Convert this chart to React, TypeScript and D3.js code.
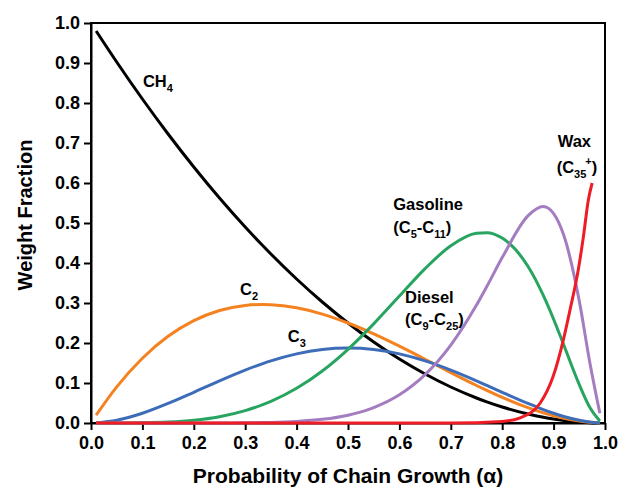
import { useEffect, useRef } from 'react';
import * as d3 from 'd3';

// chain growth probability samples (x) shared by the ASF curves
const alpha = [0.01, 0.05, 0.1, 0.15, 0.2, 0.25, 0.3, 0.333, 0.35, 0.4, 0.45, 0.5, 0.55, 0.6, 0.65, 0.7, 0.75, 0.77, 0.8, 0.85, 0.88, 0.9, 0.92, 0.95, 0.97, 0.99];

const ch4 = [0.98, 0.9025, 0.81, 0.7225, 0.64, 0.5625, 0.49, 0.4449, 0.4225, 0.36, 0.3025, 0.25, 0.2025, 0.16, 0.1225, 0.09, 0.0625, 0.0529, 0.04, 0.0225, 0.0144, 0.01, 0.0064, 0.0025, 0.0009, 0.0001];
const c2 = [0.0196, 0.0903, 0.162, 0.2168, 0.256, 0.2813, 0.294, 0.2963, 0.2958, 0.288, 0.2723, 0.25, 0.2228, 0.192, 0.1593, 0.126, 0.0938, 0.0815, 0.064, 0.0383, 0.0253, 0.018, 0.0118, 0.0048, 0.0018, 0.0002];
const c3 = [0.0003, 0.0068, 0.0243, 0.0488, 0.0768, 0.1055, 0.1323, 0.148, 0.1553, 0.1728, 0.1838, 0.1875, 0.1838, 0.1728, 0.1553, 0.1323, 0.1055, 0.0941, 0.0768, 0.0488, 0.0335, 0.0243, 0.0163, 0.0068, 0.0025, 0.0003];
const gasoline = [0, 0, 0.0005, 0.0022, 0.0067, 0.0156, 0.0308, 0.0451, 0.054, 0.0867, 0.1301, 0.1843, 0.2479, 0.3174, 0.386, 0.4432, 0.4744, 0.4758, 0.4624, 0.3918, 0.3189, 0.2595, 0.1943, 0.0958, 0.0402, 0.0052];
const diesel = [0, 0, 0, 0, 0, 0.0001, 0.0004, 0.001, 0.0014, 0.0038, 0.0091, 0.0195, 0.0385, 0.0705, 0.1209, 0.1949, 0.2949, 0.3411, 0.4135, 0.5178, 0.5412, 0.5236, 0.4686, 0.3047, 0.1546, 0.0243];

// wax has its own samples, it shoots up near the end
const waxAlpha = [0.01, 0.5, 0.7, 0.8, 0.835, 0.874, 0.899, 0.919, 0.932, 0.948, 0.958, 0.9675, 0.975];
const wax = [0, 0, 0, 0.004, 0.013, 0.05, 0.116, 0.208, 0.283, 0.383, 0.466, 0.557, 0.6];

const xTicks = [0, 0.1, 0.2, 0.3, 0.4, 0.5, 0.6, 0.7, 0.8, 0.9, 1.0];
const yTicks = [0, 0.1, 0.2, 0.3, 0.4, 0.5, 0.6, 0.7, 0.8, 0.9, 1.0];

type Part = { t: string; sub?: boolean; sup?: boolean };
// annotation text placed in data units
const labels: Array<{ a: number; w: number; parts: Part[] }> = [
  { a: 0.101, w: 0.84, parts: [{ t: 'CH' }, { t: '4', sub: true }] },
  { a: 0.29, w: 0.32, parts: [{ t: 'C' }, { t: '2', sub: true }] },
  { a: 0.383, w: 0.2025, parts: [{ t: 'C' }, { t: '3', sub: true }] },
  { a: 0.588, w: 0.5325, parts: [{ t: 'Gasoline' }] },
  { a: 0.588, w: 0.475, parts: [{ t: '(C' }, { t: '5', sub: true }, { t: '-C' }, { t: '11', sub: true }, { t: ')' }] },
  { a: 0.611, w: 0.3, parts: [{ t: 'Diesel' }] },
  { a: 0.611, w: 0.245, parts: [{ t: '(C' }, { t: '9', sub: true }, { t: '-C' }, { t: '25', sub: true }, { t: ')' }] },
  { a: 0.908, w: 0.69, parts: [{ t: 'Wax' }] },
  { a: 0.906, w: 0.625, parts: [{ t: '(C' }, { t: '35', sub: true }, { t: '+', sup: true }, { t: ')' }] },
];

const FONT = '"Liberation Sans", Arial, Helvetica, sans-serif';

export default function App() {
  const svgRef = useRef<SVGSVGElement>(null);
  const width = 620;
  const height = 487;

  useEffect(() => {
    if (!svgRef.current) return;
    const svg = d3.select(svgRef.current);
    svg.selectAll('*').remove();

    const margin = { top: 23, right: 15, bottom: 64, left: 91 };
    const innerW = width - margin.left - margin.right;
    const innerH = height - margin.top - margin.bottom;

    const x = d3.scaleLinear().domain([0, 1]).range([0, innerW]);
    const y = d3.scaleLinear().domain([0, 1]).range([innerH, 0]);

    const g = svg.append('g').attr('transform', `translate(${margin.left},${margin.top})`);

    // frame
    g.append('rect')
      .attr('width', innerW)
      .attr('height', innerH)
      .attr('fill', 'none')
      .attr('stroke', '#000')
      .attr('stroke-width', 2);

    const xAxis = g.append('g')
      .attr('transform', `translate(0,${innerH})`)
      .call(d3.axisBottom(x).tickValues(xTicks).tickFormat(d3.format('.1f') as never).tickSize(7).tickPadding(6).tickSizeOuter(0) as never);
    const yAxis = g.append('g')
      .call(d3.axisLeft(y).tickValues(yTicks).tickFormat(d3.format('.1f') as never).tickSize(7).tickPadding(4).tickSizeOuter(0) as never);

    [xAxis, yAxis].forEach((ax) => {
      ax.select('.domain').attr('stroke', '#000').attr('stroke-width', 2);
      ax.selectAll('.tick line').attr('stroke', '#000').attr('stroke-width', 2);
      ax.selectAll('.tick text')
        .attr('fill', '#000')
        .style('font-family', FONT)
        .style('font-weight', 'bold')
        .style('font-size', '18px');
    });

    const line = d3.line<[number, number]>()
      .x((d) => x(d[0]))
      .y((d) => y(d[1]))
      .curve(d3.curveMonotoneX);

    const series: Array<{ xs: number[]; ys: number[]; color: string }> = [
      { xs: alpha, ys: ch4, color: '#000000' },
      { xs: alpha, ys: c2, color: '#F58220' },
      { xs: alpha, ys: c3, color: '#3D6DB9' },
      { xs: alpha, ys: gasoline, color: '#27A560' },
      { xs: alpha, ys: diesel, color: '#A47CC0' },
      { xs: waxAlpha, ys: wax, color: '#EE1C25' },
    ];

    series.forEach((s) => {
      g.append('path')
        .datum(s.xs.map((a, i) => [a, s.ys[i]] as [number, number]))
        .attr('fill', 'none')
        .attr('stroke', s.color)
        .attr('stroke-width', 3)
        .attr('stroke-linejoin', 'round')
        .attr('d', line);
    });

    // curve labels
    labels.forEach((l) => {
      const t = g.append('text')
        .attr('x', x(l.a))
        .attr('y', y(l.w))
        .attr('fill', '#000')
        .style('font-family', FONT)
        .style('font-weight', 'bold')
        .style('font-size', '16.5px');
      let shift = 0;
      l.parts.forEach((p) => {
        const target = p.sub ? 5 : p.sup ? -8 : 0;
        const span = t.append('tspan').attr('dy', target - shift).text(p.t);
        if (p.sub || p.sup) span.style('font-size', '11px');
        if (p.sup) span.attr('dx', -1);
        shift = target;
      });
    });

    // axis titles
    svg.append('text')
      .attr('x', 348)
      .attr('y', 483)
      .attr('text-anchor', 'middle')
      .attr('fill', '#000')
      .style('font-family', FONT)
      .style('font-weight', 'bold')
      .style('font-size', '21px')
      .text('Probability of Chain Growth (α)');

    svg.append('text')
      .attr('transform', `translate(32,${215}) rotate(-90)`)
      .attr('text-anchor', 'middle')
      .attr('fill', '#000')
      .style('font-family', FONT)
      .style('font-weight', 'bold')
      .style('font-size', '20px')
      .text('Weight Fraction');
  }, []);

  return (
    <svg
      ref={svgRef}
      width={width}
      height={height}
      style={{ position: 'absolute', left: 0, top: 0, background: '#fff' }}
    />
  );
}
